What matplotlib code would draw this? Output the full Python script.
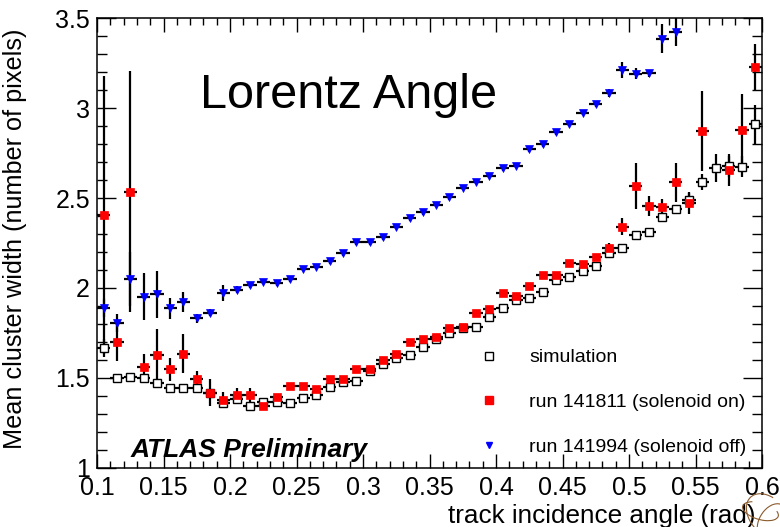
import numpy as np
import matplotlib
matplotlib.use("Agg")
import matplotlib.pyplot as plt
from matplotlib.lines import Line2D
from matplotlib.patches import Arc
from matplotlib.ticker import MultipleLocator, FixedLocator, FixedFormatter

plt.rcParams['font.family'] = ['Liberation Sans', 'DejaVu Sans']

# 50 bins of track incidence angle between 0.1 and 0.6 rad
bin_edges = np.linspace(0.1, 0.6, 51)
angle = 0.5 * (bin_edges[:-1] + bin_edges[1:])
half_width = 0.5 * np.diff(bin_edges)

nan = np.nan

sim_width = [1.668, 1.502, 1.507, 1.502, 1.470, 1.443, 1.443, 1.443, 1.415, 1.359,
             1.381, 1.346, 1.365, 1.365, 1.359, 1.391, 1.407, 1.448, 1.480, 1.485,
             1.540, 1.575, 1.609, 1.625, 1.672, 1.715, 1.750, 1.780, 1.785, 1.841,
             1.887, 1.933, 1.943, 1.980, 2.044, 2.063, 2.096, 2.122, 2.196, 2.222,
             2.297, 2.311, 2.392, 2.437, 2.487, 2.591, 2.667, 2.676, 2.674, 2.909]
sim_err = [0.05, 0.01, 0.01, 0.02, 0.01, 0.01, 0.01, 0.01, 0.01, 0.01,
           0.01, 0.01, 0.01, 0.01, 0.01, 0.01, 0.01, 0.01, 0.01, 0.01,
           0.01, 0.01, 0.01, 0.01, 0.01, 0.01, 0.01, 0.01, 0.01, 0.01,
           0.01, 0.01, 0.01, 0.01, 0.01, 0.01, 0.01, 0.01, 0.015, 0.015,
           0.015, 0.015, 0.02, 0.02, 0.045, 0.045, 0.08, 0.06, 0.06, 0.11]

on_width = [2.406, 1.702, 2.535, 1.559, 1.628, 1.548, 1.635, 1.493, 1.418, 1.378,
            1.406, 1.406, 1.346, 1.393, 1.458, 1.457, 1.439, 1.493, 1.493, 1.548,
            1.551, 1.600, 1.633, 1.702, 1.716, 1.728, 1.776, 1.785, 1.863, 1.882,
            1.970, 1.956, 2.011, 2.072, 2.070, 2.137, 2.131, 2.172, 2.220, 2.341,
            2.569, 2.456, 2.448, 2.587, 2.470, 2.872, nan, 2.656, 2.878, 3.226]
on_err = [0.77, 0.11, 0.67, 0.075, 0.146, 0.065, 0.107, 0.044, 0.074, 0.046,
          0.037, 0.037, 0.02, 0.02, 0.015, 0.015, 0.015, 0.015, 0.015, 0.015,
          0.015, 0.015, 0.015, 0.015, 0.015, 0.015, 0.015, 0.015, 0.015, 0.015,
          0.015, 0.015, 0.015, 0.015, 0.015, 0.015, 0.015, 0.015, 0.028, 0.046,
          0.128, 0.057, 0.048, 0.11, 0.06, 0.22, nan, 0.09, 0.2, 0.127]

off_width = [1.891, 1.807, 2.048, 1.952, 1.965, 1.887, 1.922, 1.831, 1.863, 1.974,
             1.991, 2.017, 2.035, 2.026, 2.048, 2.107, 2.119, 2.149, 2.194, 2.255,
             2.255, 2.283, 2.341, 2.389, 2.422, 2.463, 2.504, 2.557, 2.591, 2.624,
             2.666, 2.679, 2.772, 2.798, 2.865, 2.913, 2.974, 3.020, 3.083, 3.211,
             3.191, 3.193, 3.385, 3.424, nan, nan, nan, nan, nan, nan]
off_err = [0.05, 0.05, 0.15, 0.13, 0.13, 0.06, 0.055, 0.025, 0.02, 0.044,
           0.02, 0.015, 0.015, 0.015, 0.015, 0.015, 0.015, 0.015, 0.015, 0.015,
           0.015, 0.015, 0.015, 0.015, 0.015, 0.015, 0.015, 0.015, 0.015, 0.015,
           0.015, 0.015, 0.015, 0.015, 0.015, 0.015, 0.015, 0.015, 0.02, 0.044,
           0.03, 0.02, 0.08, 0.077, nan, nan, nan, nan, nan, nan]

series_labels = ["simulation", "run 141811 (solenoid on)", "run 141994 (solenoid off)"]
x_tick_values = [0.1, 0.15, 0.2, 0.25, 0.3, 0.35, 0.4, 0.45, 0.5, 0.55, 0.6]
x_tick_labels = ["0.1", "0.15", "0.2", "0.25", "0.3", "0.35", "0.4", "0.45", "0.5", "0.55", "0.6"]
y_tick_values = [1, 1.5, 2, 2.5, 3, 3.5]
y_tick_labels = ["1", "1.5", "2", "2.5", "3", "3.5"]

fig = plt.figure(figsize=(7.8, 5.27), dpi=100)
ax = fig.add_axes([0.1244, 0.112, 0.8526, 0.8538])

bar_kw = dict(fmt='none', ecolor='black', elinewidth=1.6, capsize=0, zorder=2)

# simulation: open squares
ax.errorbar(angle, sim_width, yerr=sim_err, xerr=half_width, **bar_kw)
ax.plot(angle, sim_width, ls='none', marker='s', ms=6.2, mfc='white',
        mec='black', mew=1.0, zorder=3)

# solenoid on: red filled squares
ax.errorbar(angle, on_width, yerr=on_err, xerr=half_width, **bar_kw)
ax.plot(angle, on_width, ls='none', marker='s', ms=6.2, mfc='#ff0000',
        mec='#ff0000', mew=0.5, zorder=4)

# solenoid off: blue down-triangles
ax.errorbar(angle, off_width, yerr=off_err, xerr=half_width, **bar_kw)
ax.plot(angle, off_width, ls='none', marker='v', ms=6.0, mfc='#0000ff',
        mec='#0000ff', mew=0.5, zorder=5)

ax.set_xlim(0.1, 0.6)
ax.set_ylim(1.0, 3.5)

ax.xaxis.set_major_locator(FixedLocator(x_tick_values))
ax.xaxis.set_major_formatter(FixedFormatter(x_tick_labels))
ax.xaxis.set_minor_locator(MultipleLocator(0.01))
ax.yaxis.set_major_locator(FixedLocator(y_tick_values))
ax.yaxis.set_major_formatter(FixedFormatter(y_tick_labels))
ax.yaxis.set_minor_locator(MultipleLocator(0.1))

ax.tick_params(axis='both', which='both', direction='in', top=True, right=True,
               width=1.0, labelsize=18)
ax.tick_params(axis='x', which='major', length=10, pad=6)
ax.tick_params(axis='x', which='minor', length=5)
ax.tick_params(axis='y', which='major', length=14, pad=5)
ax.tick_params(axis='y', which='minor', length=7.5)
for sp in ax.spines.values():
    sp.set_linewidth(1.1)

ax.set_ylabel("Mean cluster width (number of pixels)", fontsize=18.2)
ax.yaxis.set_label_coords(-0.105, 0.51, transform=ax.transAxes)
ax.set_xlabel("track incidence angle (rad)", fontsize=18.8)
ax.xaxis.set_label_coords(0.99, -0.081, transform=ax.transAxes)
ax.xaxis.label.set_horizontalalignment('right')

ax.text(0.1775, 3.0, "Lorentz Angle", fontsize=35, ha='left', va='baseline')
ax.text(0.125, 1.06, "ATLAS Preliminary", fontsize=19, fontweight='bold',
        fontstyle='italic', ha='left', va='baseline')

handles = [
    Line2D([], [], ls='none', marker='s', ms=5.5, mfc='white', mec='black', mew=1.0),
    Line2D([], [], ls='none', marker='s', ms=5.5, mfc='#ff0000', mec='#ff0000'),
    Line2D([], [], ls='none', marker='v', ms=5.0, mfc='#0000ff', mec='#0000ff'),
]
ax.legend(handles, series_labels, loc='upper left', bbox_to_anchor=(0.575, 0.265),
          frameon=False, fontsize=14, handlelength=1.0, handletextpad=1.55,
          labelspacing=1.4, borderaxespad=0, borderpad=0)

# corner emblem strokes
for (cx, cy, w, h, ang) in [(0.985, 0.02, 0.05, 0.09, 20), (0.99, 0.01, 0.035, 0.07, -15),
                            (0.975, 0.03, 0.03, 0.05, 60)]:
    fig.add_artist(Arc((cx, cy), w, h, angle=ang, theta1=60, theta2=300,
                       color='#8b5a2b', lw=0.8, transform=fig.transFigure))

fig.savefig("out.png", dpi=100)
